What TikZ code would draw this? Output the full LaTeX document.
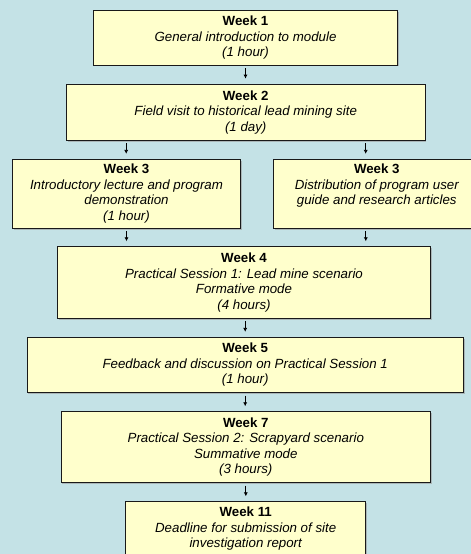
\documentclass[tikz,border=0pt]{standalone}
\usepackage{fontspec}
\setmainfont{Liberation Sans}
\usetikzlibrary{arrows.meta,shadows}

\begin{document}
\begin{tikzpicture}[x=1pt,y=-1pt]
        \definecolor{bgblue}{RGB}{196,226,230}
        \definecolor{boxyellow}{RGB}{255,255,204}
        \colorlet{boxline}{black!90}
        
        \tikzstyle{weekbox}=[draw=boxline, line width=0.9pt, fill=boxyellow,
                        align=center, inner sep=2pt,
                        font=\fontsize{13.3pt}{15.5pt}\selectfont\itshape,
                        drop shadow={shadow xshift=1.2pt, shadow yshift=-1.2pt, fill=black!40, opacity=0.6}]
        \tikzstyle{flow}=[-{Latex[length=4pt,width=4.2pt]}, line width=0.8pt,
                        shorten <=2.5pt, shorten >=5pt]
        
        \path[use as bounding box, fill=bgblue] (0,0) rectangle (471,554);
        
        \node (weekone) [weekbox, minimum width=304.5pt, minimum height=54.5pt] at (245.5,38)
            {\textbf{\textup{Week 1}}\\ General introduction to module\\ (1 hour)};
        \node (weektwo) [weekbox, minimum width=358.7pt, minimum height=56.3pt] at (245.7,112.2)
            {\textbf{\textup{Week 2}}\\ Field visit to historical lead mining site\\ (1 day)};
        \node (weekthreel) [weekbox, minimum width=228.4pt, minimum height=69pt] at (126.5,193.8)
            {\textbf{\textup{Week 3}}\\ Introductory lecture and program\\ demonstration\\ (1 hour)};
        \node (weekthreer) [weekbox, minimum width=207pt, minimum height=69pt] at (376.8,193.8)
            {\textbf{\textup{Week 3}}\\ Distribution of program user\\ guide and research articles\\ \vphantom{(}};
        \node (weekfour) [weekbox, minimum width=372.6pt, minimum height=71.6pt] at (244,282.5)
            {\textbf{\textup{Week 4}}\\ Practical Session 1: Lead mine scenario\\ Formative mode\\ (4 hours)};
        \node (weekfive) [weekbox, minimum width=436.3pt, minimum height=55.4pt] at (245.2,365)
            {\textbf{\textup{Week 5}}\\ Feedback and discussion on Practical Session 1\\ (1 hour)};
        \node (weekseven) [weekbox, minimum width=369.7pt, minimum height=71pt] at (245.8,447.2)
            {\textbf{\textup{Week 7}}\\ Practical Session 2: Scrapyard scenario\\ Summative mode\\ (3 hours)};
        \node (weekeleven) [weekbox, minimum width=240pt, minimum height=54.5pt] at (245.7,529)
            {\textbf{\textup{Week 11}}\\ Deadline for submission of site\\ investigation report};
        
        % arrows
        \draw[flow] (weekone.south) -- (weekone.south |- weektwo.north);
        \draw[flow] ([xshift=-119.5pt]weektwo.south) -- ([xshift=-119.5pt]weektwo.south |- weekthreel.north);
        \draw[flow] ([xshift=120pt]weektwo.south) -- ([xshift=120pt]weektwo.south |- weekthreer.north);
        \draw[flow] (weekthreel.south) -- (weekthreel.south |- weekfour.north);
        \draw[flow] ([xshift=-11pt]weekthreer.south) -- ([xshift=-11pt]weekthreer.south |- weekfour.north);
        \draw[flow] (weekfour.south -| weekfive.north) -- (weekfive.north);
        \draw[flow] (weekfive.south) -- (weekfive.south |- weekseven.north);
        \draw[flow] (weekseven.south) -- (weekseven.south |- weekeleven.north);
        
    \end{tikzpicture}
\end{document}
